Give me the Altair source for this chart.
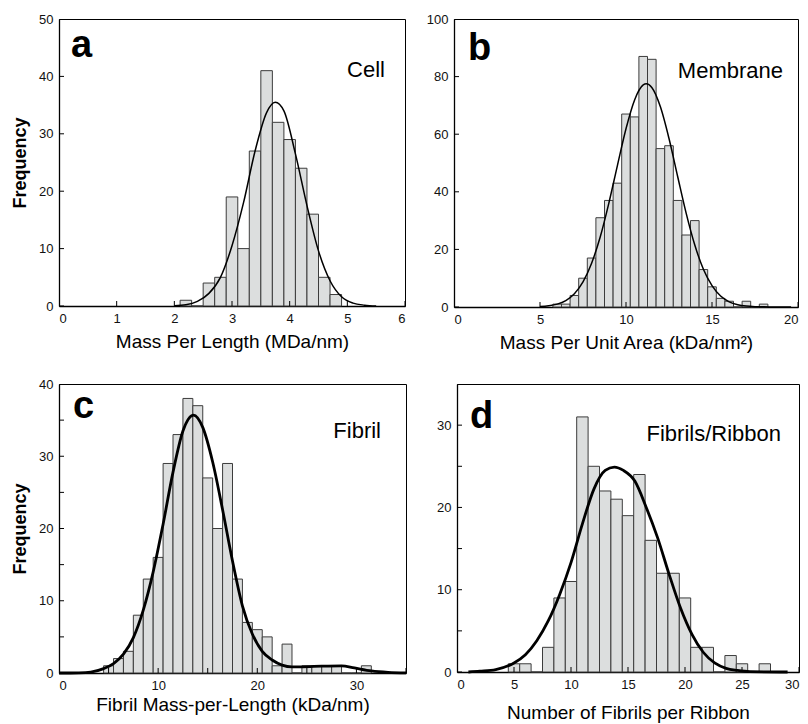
import altair as alt
import pandas as pd

FONT = "Liberation Sans"

# ---------------- Panel a : Cell ----------------
a_centers = [2.2, 2.4, 2.6, 2.8, 3.0, 3.2, 3.4, 3.6, 3.8, 4.0, 4.2, 4.4, 4.6, 4.8]
a_counts = [1, 0, 4, 5, 19, 10, 27, 41, 32, 29, 24, 16, 5, 2]
a_bw = 0.2
a_fit_x = [2.0, 2.2, 2.4, 2.6, 2.8, 3.0, 3.2, 3.4, 3.6, 3.75, 3.9, 4.1, 4.3, 4.5, 4.7, 4.9, 5.1, 5.3, 5.5]
a_fit_y = [0.03, 0.2, 0.8, 2.2, 5.0, 10.5, 18.0, 27.0, 33.7, 35.5, 34.0, 26.5, 17.5, 9.6, 4.4, 1.6, 0.5, 0.15, 0.0]
a_xticks = [0, 1, 2, 3, 4, 5, 6]
a_yticks = [0, 10, 20, 30, 40, 50]

# ---------------- Panel b : Membrane ----------------
b_centers = [6.0, 6.5, 7.0, 7.5, 8.0, 8.5, 9.0, 9.5, 10.0, 10.5, 11.0, 11.5, 12.0,
             12.5, 13.0, 13.5, 14.0, 14.5, 15.0, 15.5, 16.0, 16.5, 17.0, 17.5, 18.0]
b_counts = [1, 1, 4, 10, 17, 31, 37, 43, 67, 66, 87, 86, 55, 56, 37, 25, 30, 13, 7, 3, 2, 0, 2, 0, 1]
b_bw = 0.5
b_fit_x = [5.0, 5.5, 6.0, 6.5, 7.0, 7.5, 8.0, 8.5, 9.0, 9.5, 10.0, 10.5, 11.0, 11.18, 11.5,
           12.0, 12.5, 13.0, 13.5, 14.0, 14.5, 15.0, 15.5, 16.0, 16.5, 17.0, 17.5, 18.0, 19.0, 19.6]
b_fit_y = [0.16, 0.42, 1.0, 2.25, 4.6, 8.7, 15.2, 24.3, 36.0, 49.1, 61.9, 71.9, 77.1, 77.5, 76.2,
           69.5, 58.5, 45.4, 32.5, 21.5, 13.1, 7.4, 3.8, 1.8, 0.8, 0.33, 0.12, 0.05, 0.01, 0.0]
b_xticks = [0, 5, 10, 15, 20]
b_yticks = [0, 20, 40, 60, 80, 100]

# ---------------- Panel c : Fibril ----------------
c_centers = [5, 6, 7, 8, 9, 10, 11, 12, 13, 14, 15, 16, 17, 18, 19, 20, 21, 22, 23, 24, 25, 26, 27, 28, 29, 30, 31]
c_counts = [1, 2, 3, 8, 13, 16, 29, 33, 38, 37, 27, 20, 29, 13, 7, 6, 5, 1, 4, 0, 1, 1, 1, 1, 0, 0, 1]
c_bw = 1.0
c_fit_x = [0, 2, 3.2, 4.5, 5.5, 6.5, 7.5, 8.5, 9.5, 10.5, 11.5, 12.5, 13.57, 14.5, 15.5, 16.5, 17.5,
           18.5, 19.5, 20.5, 21.5, 22.5, 23.5, 24.5, 26.5, 28.5, 29.8, 31.5, 33.2, 35]
c_fit_y = [0, 0.03, 0.12, 0.6, 1.3, 2.6, 4.9, 8.7, 14.0, 20.6, 27.8, 33.5, 35.7, 34.0, 29.2, 22.6, 15.5,
           9.3, 5.4, 3.0, 1.8, 1.1, 0.85, 0.85, 0.95, 1.0, 0.7, 0.3, 0.1, 0.02]
c_xticks = [0, 5, 10, 15, 20, 25, 30, 35]
c_xlabels = [0, 10, 20, 30]
c_yticks = [0, 5, 10, 15, 20, 25, 30, 35, 40]
c_ylabels = [0, 10, 20, 30, 40]

# ---------------- Panel d : Fibrils/Ribbon ----------------
d_centers = [5, 6, 7, 8, 9, 10, 11, 12, 13, 14, 15, 16, 17, 18, 19, 20, 21, 22, 23, 24, 25, 26, 27]
d_counts = [1, 1, 0, 3, 9, 11, 31, 25, 22, 21, 19, 24, 16, 12, 12, 9, 3, 3, 0, 2, 1, 0, 1]
d_bw = 1.0
d_fit_x = [1, 2, 3.4, 5, 6, 7, 8, 9, 10, 11, 12, 13, 13.8, 14.6, 15.6, 16.6, 17.6, 18.6, 19.6,
           20.6, 21.6, 22.6, 23.6, 24.6, 25.7, 29]
d_fit_y = [0, 0.1, 0.3, 1.1, 2.1, 3.8, 6.2, 9.4, 13.3, 18.0, 22.2, 24.5, 24.9, 24.5, 23.2, 20.0, 16.3,
           11.9, 7.8, 4.6, 2.4, 1.1, 0.45, 0.2, 0.05, 0]
d_xticks = [0, 5, 10, 15, 20, 25, 30]
d_yticks = [0, 5, 10, 15, 20, 25, 30, 35]
d_ylabels = [0, 10, 20, 30]


def panel(centers, counts, bw, fit_x, fit_y, xdom, ydom, xticks, yticks, xlabels, ylabels,
          xtitle, ytitle, letter, label, w, h, curve_w, letter_pos, label_pos, xtitle_pad):
    xscale = alt.Scale(domain=xdom, nice=False, zero=False)
    yscale = alt.Scale(domain=ydom, nice=False, zero=True)
    xaxis = alt.Axis(values=xlabels, title=xtitle, titlePadding=xtitle_pad, format="d")
    if ytitle:
        yaxis = alt.Axis(values=ylabels, title=ytitle, titleFontWeight="bold", titleFontSize=18,
                         titlePadding=9, format="d")
    else:
        yaxis = alt.Axis(values=ylabels, title=None, format="d")

    bars_df = pd.DataFrame({"c": centers, "n": counts})
    bars = (
        alt.Chart(bars_df)
        .transform_calculate(xv=f"datum.c - {bw / 2}", x1=f"datum.c + {bw / 2}")
        .mark_rect(fill="#dcdede", stroke="#3c3c3c", strokeWidth=1)
        .encode(
            x=alt.X("xv:Q", scale=xscale, axis=xaxis),
            x2="x1:Q",
            y=alt.Y("n:Q", scale=yscale, axis=yaxis),
            y2=alt.datum(0),
        )
    )
    fit_df = pd.DataFrame({"xv": fit_x, "n": fit_y})
    fit = (
        alt.Chart(fit_df)
        .mark_line(color="black", strokeWidth=curve_w, interpolate="monotone")
        .encode(x="xv:Q", y="n:Q")
    )
    # inward ticks: 10px ticks centred on the frame, clipped to the plot area
    xt = (
        alt.Chart(pd.DataFrame({"xv": xticks}))
        .mark_tick(orient="vertical", size=10, thickness=1, color="black", opacity=1, clip=True)
        .encode(x="xv:Q", y=alt.datum(ydom[0]))
    )
    yt = (
        alt.Chart(pd.DataFrame({"n": yticks}))
        .mark_tick(orient="horizontal", size=10, thickness=1, color="black", opacity=1, clip=True)
        .encode(y="n:Q", x=alt.datum(xdom[0]))
    )
    let = (
        alt.Chart(pd.DataFrame({"s": [letter]}))
        .mark_text(font=FONT, fontSize=38, fontWeight="bold", align="left", baseline="alphabetic", color="black")
        .encode(text="s:N", x=alt.value(letter_pos[0]), y=alt.value(letter_pos[1]))
    )
    lab = (
        alt.Chart(pd.DataFrame({"s": [label]}))
        .mark_text(font=FONT, fontSize=22, align="right", baseline="alphabetic", color="black")
        .encode(text="s:N", x=alt.value(label_pos[0]), y=alt.value(label_pos[1]))
    )
    return alt.layer(bars, fit, xt, yt, let, lab).properties(width=w, height=h)


pa = panel(a_centers, a_counts, a_bw, a_fit_x, a_fit_y, [0, 6], [0, 50], a_xticks, a_yticks,
           a_xticks, a_yticks, "Mass Per Length (MDa/nm)", "Frequency", "a", "Cell",
           346, 287, 1.5, (12, 38), (326, 58), 7)
pb = panel(b_centers, b_counts, b_bw, b_fit_x, b_fit_y, [0, 20], [0, 100], b_xticks, b_yticks,
           b_xticks, b_yticks, "Mass Per Unit Area (kDa/nm²)", None, "b", "Membrane",
           344, 288, 1.5, (14, 41), (329, 59), 7)
pc = panel(c_centers, c_counts, c_bw, c_fit_x, c_fit_y, [0, 35], [0, 40], c_xticks, c_yticks,
           c_xlabels, c_ylabels, "Fibril Mass-per-Length (kDa/nm)", "Frequency", "c", "Fibril",
           347, 289, 2.8, (14, 34), (322, 54), 3)
pd_ = panel(d_centers, d_counts, d_bw, d_fit_x, d_fit_y, [0, 30], [0, 35], d_xticks, d_yticks,
            d_xticks, d_ylabels, "Number of Fibrils per Ribbon", None, "d", "Fibrils/Ribbon",
            342, 288, 2.8, (13, 44), (324, 57), 12)

row1 = alt.hconcat(pa, pb, spacing=19)
row2 = alt.hconcat(pc, pd_, spacing=23)

chart = (
    alt.vconcat(row1, row2, spacing=24)
    .properties(padding={"left": 3, "top": 4, "right": 0, "bottom": 0})
    .configure_view(stroke="black", strokeWidth=1)
    .configure_axis(
        labelFont=FONT, titleFont=FONT, labelFontSize=13, titleFontSize=19,
        titleFontWeight="normal", labelColor="#111111", titleColor="black",
        ticks=False, labelPadding=6, grid=False, domainColor="black", domainWidth=1.3,
    )
)

chart.save("out.html", embed_options={"renderer": "svg", "actions": False})
